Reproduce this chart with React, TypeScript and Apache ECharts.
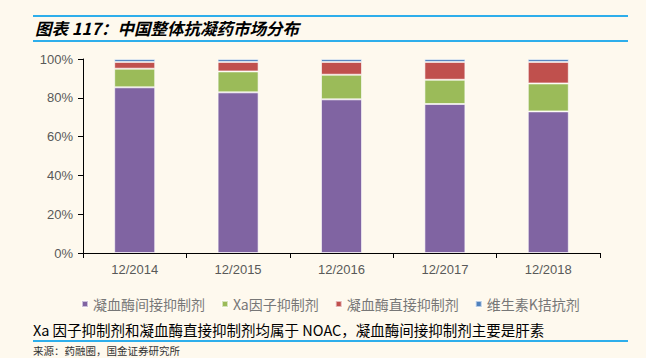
import React, { useEffect, useRef } from "react";
import * as echarts from "echarts";

const categories = ["12/2014", "12/2015", "12/2016", "12/2017", "12/2018"];
const seriesNames = ["凝血酶间接抑制剂", "Xa因子抑制剂", "凝血酶直接抑制剂", "维生素K拮抗剂"];
const indirectThrombin = [85.4, 82.8, 79.2, 76.8, 73.0];
const factorXa = [9.6, 10.8, 12.7, 12.5, 14.4];
const directThrombin = [3.5, 4.9, 6.6, 9.2, 11.1];
const vitaminK = [1.5, 1.5, 1.5, 1.5, 1.5];
const yTicks = [0, 20, 40, 60, 80, 100];

const titleText = "图表 117：中国整体抗凝药市场分布";
const captionText = "Xa 因子抑制剂和凝血酶直接抑制剂均属于 NOAC，凝血酶间接抑制剂主要是肝素";
const sourceText = "来源：药融圈，国金证券研究所";

const colors = ["#8064A2", "#9BBB59", "#C0504D", "#4F81BD"];
const BG = "#FEF9EE";
const BLUE = "#2EAEEB";
const FONT = "'Liberation Sans', 'Noto Sans CJK SC', sans-serif";
const CJK = "'Noto Sans CJK SC', 'Liberation Sans', sans-serif";

export default function App() {
  const ref = useRef<HTMLDivElement>(null);
  useEffect(() => {
    document.body.style.margin = "0";
    document.body.style.background = BG;
    const chart = echarts.init(ref.current!, null, { renderer: "svg" });
    const values = [indirectThrombin, factorXa, directThrombin, vitaminK];
    chart.setOption({
      animation: false,
      backgroundColor: BG,
      grid: { left: 83, right: 46, top: 59, bottom: 105, containLabel: false },
      legend: {
        left: 76,
        top: 292,
        itemWidth: 6,
        itemHeight: 6,
        itemGap: 16,
        icon: "rect",
        textStyle: { color: "#777", fontSize: 14, fontFamily: CJK },
        data: seriesNames,
      },
      xAxis: {
        type: "category",
        data: categories,
        axisLine: { lineStyle: { color: "#000", width: 1 } },
        axisTick: { show: true, alignWithLabel: false, length: 5, lineStyle: { color: "#000" } },
        axisLabel: { color: "#595959", fontSize: 13, fontFamily: FONT, margin: 10 },
      },
      yAxis: {
        type: "value",
        min: yTicks[0],
        max: yTicks[yTicks.length - 1],
        interval: 20,
        axisLine: { show: true, lineStyle: { color: "#000", width: 1 } },
        axisTick: { show: true, length: 5, lineStyle: { color: "#000" } },
        splitLine: { show: false },
        axisLabel: { color: "#595959", fontSize: 13, fontFamily: FONT, margin: 10, formatter: "{value}%" },
      },
      series: seriesNames.map((name, i) => ({
        name,
        type: "bar",
        stack: "total",
        barWidth: 41,
        data: values[i],
        itemStyle: { color: colors[i], borderColor: "rgba(255,255,255,0.6)", borderWidth: 1 },
      })),
      graphic: [
        { type: "line", shape: { x1: 33, y1: 16, x2: 628, y2: 16 }, style: { stroke: BLUE, lineWidth: 2 } },
        { type: "line", shape: { x1: 33, y1: 41, x2: 628, y2: 41 }, style: { stroke: BLUE, lineWidth: 2 } },
        {
          type: "text",
          x: 35,
          y: 28,
          style: {
            text: titleText,
            fill: "#000",
            font: `italic bold 16.5px ${CJK}`,
            verticalAlign: "middle",
          },
        },
        {
          type: "text",
          x: 33,
          y: 329,
          style: {
            text: captionText,
            fill: "#000",
            font: `14.5px ${CJK}`,
            verticalAlign: "middle",
          },
        },
        { type: "line", shape: { x1: 33, y1: 341, x2: 628, y2: 341 }, style: { stroke: BLUE, lineWidth: 2 } },
        {
          type: "text",
          x: 33,
          y: 350.5,
          style: {
            text: sourceText,
            fill: "#333",
            font: `10.5px ${CJK}`,
            verticalAlign: "middle",
          },
        },
      ],
    });
    return () => chart.dispose();
  }, []);
  return (
    <div
      ref={ref}
      style={{ position: "absolute", left: 0, top: 0, width: 646, height: 358, background: BG }}
    />
  );
}
